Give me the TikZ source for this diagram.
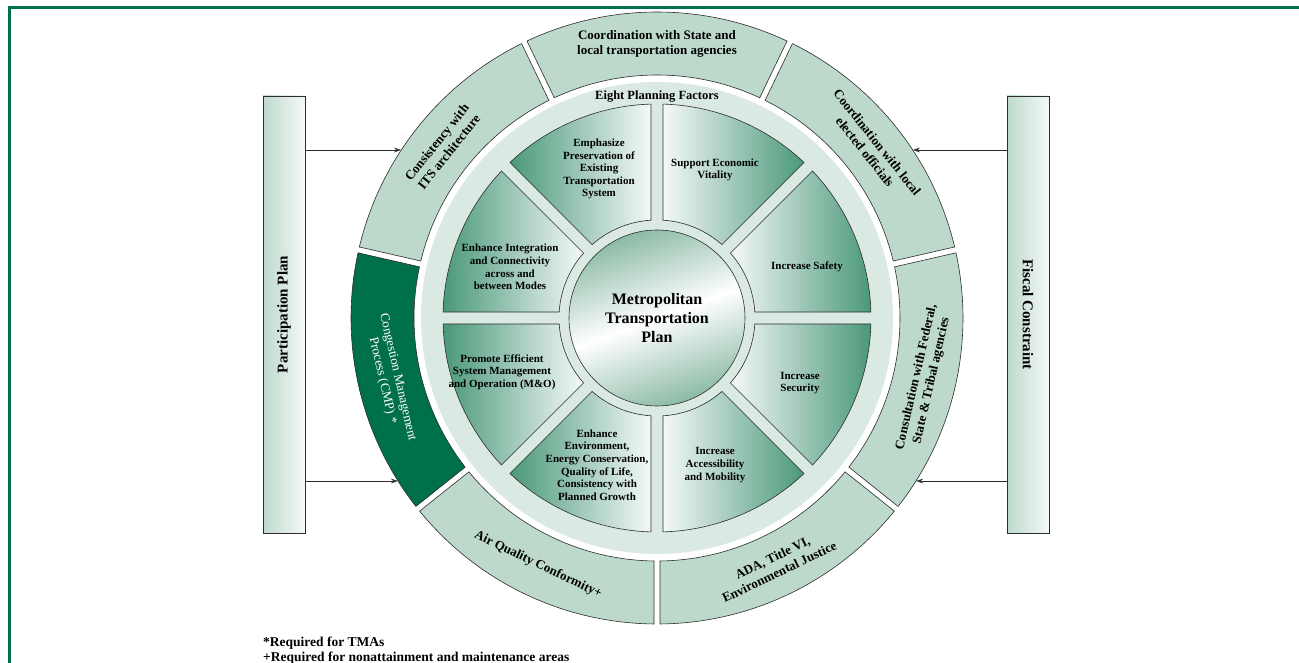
\documentclass[tikz,border=0pt]{standalone}
\usepackage{fontspec}
\setmainfont{Liberation Serif}
\usetikzlibrary{arrows.meta}

\definecolor{framegreen}{RGB}{0,112,80}
\definecolor{segfill}{RGB}{189,217,204}
\definecolor{cmpgreen}{RGB}{0,112,74}
\definecolor{bandfill}{RGB}{218,233,226}
\definecolor{wedgedark}{RGB}{74,152,122}
\definecolor{wedgelight}{RGB}{245,249,247}
\definecolor{hubgreen}{RGB}{140,186,166}
\definecolor{edgegray}{RGB}{45,45,45}

% piece of a ring, straight sides kept a fixed gap apart
% #1 start angle, #2 end angle, #3 inner radius, #4 outer radius, #5 half gap, #6 options
\newcommand{\annulus}[6]{%
  \pgfmathsetmacro{\segAo}{#1+asin(#5/#4)}%
  \pgfmathsetmacro{\segBo}{#2-asin(#5/#4)}%
  \pgfmathsetmacro{\segAi}{#1+asin(#5/#3)}%
  \pgfmathsetmacro{\segBi}{#2-asin(#5/#3)}%
  \path[#6] (\segAo:#4) arc[start angle=\segAo, end angle=\segBo, radius=#4]
    -- (\segBi:#3) arc[start angle=\segBi, end angle=\segAi, radius=#3] -- cycle;}

\begin{document}
\begin{tikzpicture}[x=1pt,y=1pt,
  seg/.style={draw=edgegray,line width=0.6pt,fill=segfill},
  wedge L/.style={draw=edgegray,line width=0.6pt,left color=wedgedark,right color=wedgelight},
  wedge R/.style={draw=edgegray,line width=0.6pt,left color=wedgelight,right color=wedgedark},
  factor/.style={font=\bfseries\fontsize{11}{12.6}\selectfont,align=center,inner sep=0pt},
  ringtext/.style={font=\bfseries\fontsize{13}{15.5}\selectfont,align=center,inner sep=0pt},
  side box/.style={draw=edgegray,line width=0.8pt,left color=segfill,right color=wedgelight,
    minimum width=42,minimum height=437,inner sep=0pt,font=\bfseries\fontsize{15}{17}\selectfont},
  pointer/.style={-{Stealth[length=7pt,width=4.5pt]},line width=0.6pt,draw=edgegray}]

  \useasboundingbox (0,0) rectangle (1299,-663);
  \fill[white] (0,0) rectangle (1299,-663);
  \draw[framegreen,line width=3pt] (9.5,-663) -- (9.5,-7.5) -- (1299,-7.5);

  \begin{scope}[shift={(657,-318)}]
    % outer ring
    \annulus{64.29}{115.71}{243}{306}{3}{seg}
    \annulus{115.71}{167.14}{243}{306}{3}{seg}
    \annulus{167.14}{218.57}{243}{306}{3}{seg,fill=cmpgreen}
    \annulus{218.57}{270}{243}{306}{3}{seg}
    \annulus{270}{321.43}{243}{306}{3}{seg}
    \annulus{321.43}{372.86}{243}{306}{3}{seg}
    \annulus{12.86}{64.29}{243}{306}{3}{seg}

    \node[ringtext] (sState) at (90:274) {Coordination with State and\\local transportation agencies};
    \node[ringtext,rotate=51.43] (sITS) at (141.43:274) {Consistency with\\ITS architecture};
    \node[ringtext,text=white,font=\fontsize{13}{15.5}\selectfont,rotate=-77.14] (sCMP) at (192.86:274) {Congestion Management\\Process (CMP) *};
    \node[ringtext,rotate=-25.71] (sAir) at (244.29:274) {Air Quality Conformity+};
    \node[ringtext,rotate=25.71] (sADA) at (295.71:274) {ADA, Title VI,\\Environmental Justice};
    \node[ringtext,rotate=77.14] (sTribal) at (347.14:274) {Consultation with Federal,\\State \& Tribal agencies};
    \node[ringtext,rotate=-51.43] (sLocal) at (38.57:274) {Coordination with local\\elected officials};

    % planning factors
    \fill[bandfill] (0,0) circle[radius=236];
    \foreach \a in {90,135,180,225}
      \annulus{\a}{\a+45}{98}{214}{6}{wedge L};
    \foreach \a in {-90,-45,0,45}
      \annulus{\a}{\a+45}{98}{214}{6}{wedge R};

    \node[font=\bfseries\fontsize{12.5}{14}\selectfont] (eight) at (0,221) {Eight Planning Factors};
    \node[factor] (fPreserve) at (-58,149) {Emphasize\\Preservation of\\Existing\\Transportation\\System};
    \node[factor] (fEconomy) at (58,148) {Support Economic\\Vitality};
    \node[factor] (fSafety) at (150,51) {Increase Safety};
    \node[factor] (fModes) at (-147,51) {Enhance Integration\\and Connectivity\\across and\\between Modes};
    \node[factor] (fMandO) at (-155,-54) {Promote Efficient\\System Management\\and Operation (M\&O)};
    \node[factor] (fSecurity) at (143,-65) {Increase\\Security};
    \node[factor] (fEnviron) at (-60,-147) {Enhance\\Environment,\\Energy Conservation,\\Quality of Life,\\Consistency with\\Planned Growth};
    \node[factor] (fAccess) at (58,-147) {Increase\\Accessibility\\and Mobility};

    \node[circle,draw=edgegray,line width=0.6pt,minimum size=176,inner sep=0pt,
      top color=hubgreen,bottom color=hubgreen,middle color=white,shading angle=20,
      font=\bfseries\fontsize{16}{19}\selectfont,align=center] (mtp) at (0,0)
      {Metropolitan\\Transportation\\Plan};

    \coordinate (pinA) at (-255.8,168);
    \coordinate (pinB) at (-259,-163);
    \coordinate (pinC) at (255.8,168);
    \coordinate (pinD) at (259,-163);
  \end{scope}

  \node[side box] (partPlan) at (284,-314.5) {\rotatebox{90}{Participation Plan}};
  \node[side box] (fiscal) at (1028,-314.5) {\rotatebox{-90}{Fiscal Constraint}};

  \draw[pointer] (partPlan.east |- pinA) -- (pinA);
  \draw[pointer] (partPlan.east |- pinB) -- (pinB);
  \draw[pointer] (fiscal.west |- pinC) -- (pinC);
  \draw[pointer] (fiscal.west |- pinD) -- (pinD);

  \node[anchor=north west,align=left,inner sep=0pt,
    font=\bfseries\fontsize{13.5}{15}\selectfont] (notes) at (263,-637)
    {*Required for TMAs\\+Required for nonattainment and maintenance areas};
\end{tikzpicture}
\end{document}
